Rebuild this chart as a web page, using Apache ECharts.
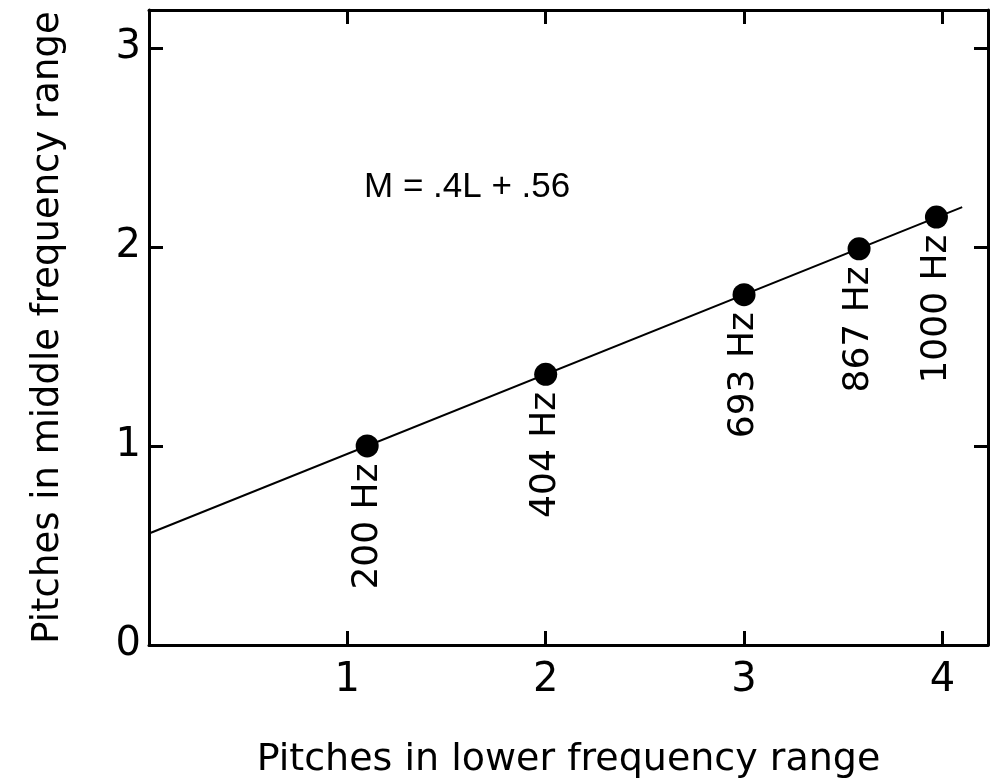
<!DOCTYPE html>
<html>
<head>
<meta charset="utf-8">
<script src="https://cdn.jsdelivr.net/npm/echarts@6/dist/echarts.min.js"></script>
<style>
  html, body { margin: 0; padding: 0; background: #fff; }
  #chart { width: 998px; height: 784px; }
</style>
</head>
<body>
<div id="chart"></div>
<script>
// pitch data
var lowerPitch = [1.1, 2.0, 3.0, 3.58, 3.97];
var middlePitch = [1.0, 1.36, 1.76, 1.99, 2.15];
var freqLabels = ["200 Hz", "404 Hz", "693 Hz", "867 Hz", "1000 Hz"];
// fitted line, ends
var fitX = [0, 4.1];
var fitY = [0.56, 2.2];
var equation = "M = .4L + .56";

var font = "DejaVu Sans";
var chart = echarts.init(document.getElementById("chart"));

function pairs(xs, ys) {
  var out = [];
  for (var i = 0; i < xs.length; i++) out.push([xs[i], ys[i]]);
  return out;
}

var axisLine = { show: true, onZero: false, lineStyle: { color: "#000", width: 3 } };
var axisTick = { show: true, inside: true, length: 14, lineStyle: { color: "#000", width: 3 } };

var option = {
  animation: false,
  backgroundColor: "#fff",
  grid: { left: 149, right: 10, top: 10, bottom: 132 },
  xAxis: [
    {
      type: "value",
      min: 0,
      max: 4.23,
      interval: 1,
      position: "bottom",
      axisLine: axisLine,
      axisTick: axisTick,
      splitLine: { show: false },
      axisLabel: {
        color: "#000",
        fontFamily: font,
        fontSize: 40,
        margin: 16,
        formatter: function (v) { return (v > 0 && v === Math.round(v)) ? String(v) : ""; }
      },
      name: "Pitches in lower frequency range",
      nameLocation: "middle",
      nameGap: 96,
      nameTextStyle: { color: "#000", fontFamily: font, fontSize: 38 }
    },
    {
      type: "value",
      min: 0,
      max: 4.23,
      interval: 1,
      position: "top",
      axisLine: axisLine,
      axisTick: axisTick,
      splitLine: { show: false },
      axisLabel: { show: false }
    }
  ],
  yAxis: [
    {
      type: "value",
      min: 0,
      max: 3.19,
      interval: 1,
      position: "left",
      axisLine: axisLine,
      axisTick: axisTick,
      splitLine: { show: false },
      axisLabel: {
        color: "#000",
        fontFamily: font,
        fontSize: 40,
        margin: 8,
        formatter: function (v) { return v === Math.round(v) ? String(v) : ""; }
      },
      name: "Pitches in middle frequency range",
      nameLocation: "middle",
      nameGap: 82,
      nameTextStyle: { color: "#000", fontFamily: font, fontSize: 37 }
    },
    {
      type: "value",
      min: 0,
      max: 3.19,
      interval: 1,
      position: "right",
      axisLine: axisLine,
      axisTick: axisTick,
      splitLine: { show: false },
      axisLabel: { show: false }
    }
  ],
  graphic: [
    {
      type: "text",
      left: 364,
      top: 170,
      style: { text: equation, fill: "#000", font: "35px 'Liberation Sans'" }
    }
  ],
  series: [
    {
      type: "line",
      data: pairs(fitX, fitY),
      showSymbol: false,
      lineStyle: { color: "#000", width: 2 },
      z: 2
    },
    {
      type: "scatter",
      data: pairs(lowerPitch, middlePitch),
      symbol: "circle",
      symbolSize: 23,
      itemStyle: { color: "#000", opacity: 1 },
      z: 3,
      label: {
        show: true,
        position: "bottom",
        distance: 6,
        rotate: 90,
        align: "right",
        verticalAlign: "middle",
        color: "#000",
        opacity: 1,
        fontFamily: font,
        fontSize: 36,
        formatter: function (p) { return freqLabels[p.dataIndex]; }
      }
    }
  ]
};

chart.setOption(option);
</script>
</body>
</html>
